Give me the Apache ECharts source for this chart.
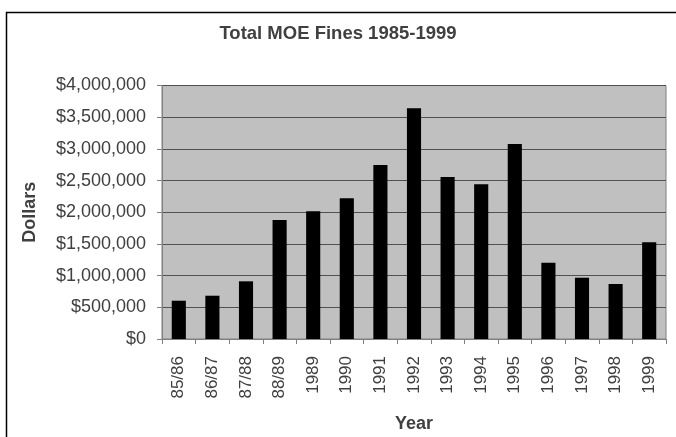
<!DOCTYPE html>
<html>
<head>
<meta charset="utf-8">
<script src="https://cdn.jsdelivr.net/npm/echarts@6/dist/echarts.min.js"></script>
<style>
    html, body { margin: 0; padding: 0; background: #fff; }
    #main { width: 676px; height: 437px; }
</style>
</head>
<body>
<div id="main"></div>
<script>
    const years = ['85/86', '86/87', '87/88', '88/89', '1989', '1990', '1991', '1992',
                   '1993', '1994', '1995', '1996', '1997', '1998', '1999'];
    const fines = [604000, 683000, 910000, 1878000, 2015000, 2220000, 2746000, 3640000,
                   2556000, 2441000, 3077000, 1204000, 967000, 868000, 1526000];

    const fontFam = '"Liberation Sans", Arial, sans-serif';
    const textCol = '#404040';

    const myChart = echarts.init(document.getElementById('main'));

    const option = {
        animation: false,
        backgroundColor: '#ffffff',
        title: {
            text: 'Total MOE Fines 1985-1999',
            left: 'center',
            top: 19,
            textStyle: { fontFamily: fontFam, fontSize: 18.5, fontWeight: 'bold', color: textCol }
        },
        // chart frame, offset like the original screenshot
        graphic: [{
            type: 'rect',
            shape: { x: 6.5, y: 12.5, width: 700, height: 450 },
            style: { fill: 'none', stroke: '#000', lineWidth: 1.5 },
            silent: true
        }],
        grid: {
            left: 162, right: 10, top: 85.5, bottom: 98,
            outerBoundsMode: 'none',
            show: true,
            backgroundColor: '#c0c0c0',
            borderColor: '#808080',
            borderWidth: 1
        },
        xAxis: {
            type: 'category',
            data: years,
            name: 'Year',
            nameLocation: 'middle',
            nameGap: 76,
            nameTextStyle: { fontFamily: fontFam, fontSize: 18, fontWeight: 'bold', color: textCol },
            axisLine: { lineStyle: { color: '#808080' } },
            axisTick: { show: true, alignWithLabel: false, length: 5, lineStyle: { color: '#808080' } },
            axisLabel: { rotate: 90, fontFamily: fontFam, fontSize: 17, color: textCol, margin: 17 },
            splitLine: { show: false }
        },
        yAxis: {
            type: 'value',
            min: 0,
            max: 4000000,
            interval: 500000,
            name: 'Dollars',
            nameLocation: 'middle',
            nameRotate: 90,
            nameGap: 123,
            nameTextStyle: { fontFamily: fontFam, fontSize: 18, fontWeight: 'bold', color: textCol },
            axisLine: { show: true, lineStyle: { color: '#808080' } },
            axisTick: { show: true, length: 5, lineStyle: { color: '#808080' } },
            axisLabel: {
                fontFamily: fontFam, fontSize: 18, color: textCol, margin: 16,
                formatter: v => '$' + v.toLocaleString('en-US')
            },
            splitLine: { show: true, lineStyle: { color: '#505050', width: 1 } }
        },
        series: [{
            type: 'bar',
            data: fines,
            barWidth: '42%',
            itemStyle: { color: '#000000' }
        }]
    };

    myChart.setOption(option);
</script>
</body>
</html>
